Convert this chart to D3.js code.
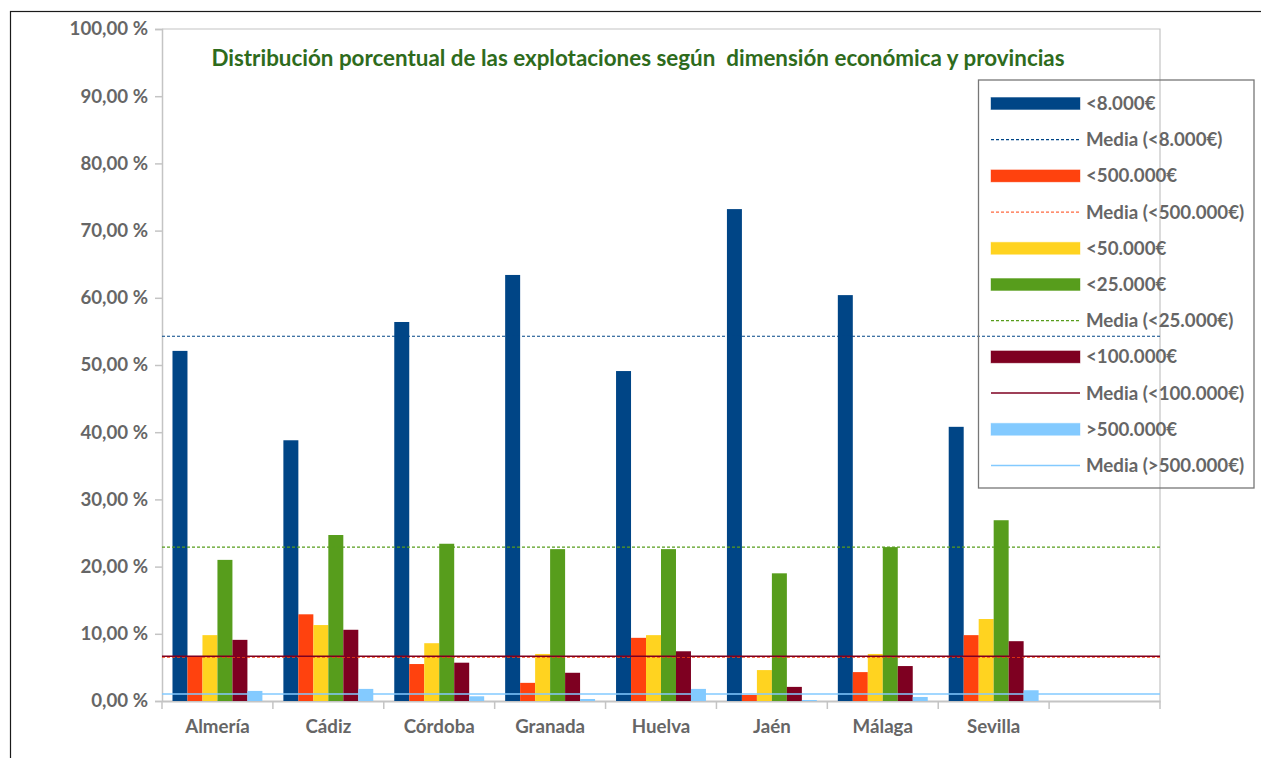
<!DOCTYPE html>
<html>
<head>
<meta charset="utf-8">
<script src="https://cdn.jsdelivr.net/npm/d3@7"></script>
<style>
  html, body { margin: 0; padding: 0; background: #fff; }
  svg { display: block; }
  text { font-family: Lato, "Noto Sans", sans-serif; font-weight: bold; }
</style>
</head>
<body>
<svg id="chart" width="1261" height="758"></svg>
<script>
const provinces = ["Almería", "Cádiz", "Córdoba", "Granada", "Huelva", "Jaén", "Málaga", "Sevilla", ""];
const seriesNames = ["<8.000€", "<500.000€", "<50.000€", "<25.000€", "<100.000€", ">500.000€"];
const seriesColors = ["#004586", "#ff420e", "#ffd320", "#579d1c", "#7e0021", "#83caff"];

const valsLt8k    = [52.1, 38.8, 56.4, 63.4, 49.1, 73.2, 60.4, 40.8];
const valsLt500k  = [6.6, 12.9, 5.5, 2.7, 9.4, 0.9, 4.3, 9.8];
const valsLt50k   = [9.8, 11.3, 8.6, 7.0, 9.8, 4.6, 7.0, 12.2];
const valsLt25k   = [21.0, 24.7, 23.4, 22.6, 22.6, 19.0, 22.9, 26.9];
const valsLt100k  = [9.1, 10.6, 5.7, 4.2, 7.4, 2.1, 5.2, 8.9];
const valsGt500k  = [1.5, 1.8, 0.7, 0.3, 1.8, 0.15, 0.6, 1.6];
const seriesValues = [valsLt8k, valsLt500k, valsLt50k, valsLt25k, valsLt100k, valsGt500k];

// mean lines: series index, label, dash
const meanSeries = [0, 1, 3, 4, 5];
const meanLabels = ["Media (<8.000€)", "Media (<500.000€)", "Media (<25.000€)", "Media (<100.000€)", "Media (>500.000€)"];
const meanDash = ["3,2", "3,2", "3,2", null, null];
const meanWidth = [1.2, 1, 1.2, 1.5, 1.5];

const yTicks = [0, 10, 20, 30, 40, 50, 60, 70, 80, 90, 100];
const title = "Distribución porcentual de las explotaciones según  dimensión económica y provincias";

const svg = d3.select("#chart");
const pLeft = 162, pRight = 1160, pTop = 29, pBottom = 701;
const labelSize = "18.7px";

const x = d3.scaleBand().domain(provinces).range([pLeft, pRight]).padding(0);
const xi = d3.scaleBand().domain(d3.range(seriesNames.length)).range([0, x.bandwidth()]).paddingInner(0).paddingOuter(0.7);
const y = d3.scaleLinear().domain([0, 100]).range([pBottom, pTop]);

// outer frame
svg.append("rect").attr("x", 10.5).attr("y", 11.5).attr("width", 1400).attr("height", 900)
  .attr("fill", "none").attr("stroke", "#1a1a1a").attr("stroke-width", 1.2);

// plot border (top, right)
svg.append("path").attr("d", `M${pLeft},${pTop}H${pRight}V${pBottom}`)
  .attr("fill", "none").attr("stroke", "#c4c4c4").attr("stroke-width", 1.2);

// y axis
const yAxis = svg.append("g").attr("transform", `translate(${pLeft},0)`)
  .call(d3.axisLeft(y).tickValues(yTicks).tickSize(7).tickPadding(7)
    .tickFormat(d => d3.format(".2f")(d).replace(".", ",") + " %"));
yAxis.select(".domain").attr("stroke", "#c4c4c4").attr("stroke-width", 1.5);
yAxis.selectAll(".tick line").attr("stroke", "#c4c4c4").attr("stroke-width", 1.5);
yAxis.selectAll(".tick text").attr("fill", "#666").style("font-size", labelSize).style("font-family", "Lato, sans-serif").style("font-weight", "bold");

// x axis
const xAxis = svg.append("g").attr("transform", `translate(0,${pBottom})`)
  .call(d3.axisBottom(x).tickSize(0).tickPadding(19));
xAxis.select(".domain").attr("stroke", "#c4c4c4").attr("stroke-width", 2);
xAxis.selectAll(".tick text").attr("fill", "#666").style("font-size", labelSize).style("font-family", "Lato, sans-serif").style("font-weight", "bold");
// boundary ticks between categories
const boundaries = provinces.map(p => x(p)).concat([pRight]);
svg.append("g").selectAll("line").data(boundaries).join("line")
  .attr("x1", d => d).attr("x2", d => d).attr("y1", pBottom).attr("y2", pBottom + 8)
  .attr("stroke", "#c4c4c4").attr("stroke-width", 1.5);

// bars
const groups = svg.append("g").selectAll("g").data(provinces.slice(0, 8)).join("g")
  .attr("transform", d => `translate(${x(d)},0)`);
groups.selectAll("rect").data((d, i) => seriesValues.map((vals, s) => ({ s, v: vals[i] }))).join("rect")
  .attr("x", d => xi(d.s)).attr("width", xi.bandwidth())
  .attr("y", d => y(d.v)).attr("height", d => y(0) - y(d.v))
  .attr("fill", d => seriesColors[d.s]);

// mean lines
meanSeries.forEach((s, k) => {
  const m = d3.mean(seriesValues[s]);
  svg.append("line").attr("x1", pLeft).attr("x2", pRight).attr("y1", y(m)).attr("y2", y(m))
    .attr("stroke", seriesColors[s]).attr("stroke-width", meanWidth[k])
    .attr("stroke-dasharray", meanDash[k]);
});

// title
svg.append("text").attr("x", 638).attr("y", 66).attr("text-anchor", "middle")
  .attr("fill", "#2e6b1c").style("font-size", "22.4px").style("white-space", "pre")
  .attr("xml:space", "preserve").text(title);

// legend
const legendItems = [
  { type: "bar", s: 0, label: seriesNames[0] },
  { type: "line", k: 0 },
  { type: "bar", s: 1, label: seriesNames[1] },
  { type: "line", k: 1 },
  { type: "bar", s: 2, label: seriesNames[2] },
  { type: "bar", s: 3, label: seriesNames[3] },
  { type: "line", k: 2 },
  { type: "bar", s: 4, label: seriesNames[4] },
  { type: "line", k: 3 },
  { type: "bar", s: 5, label: seriesNames[5] },
  { type: "line", k: 4 }
];
svg.append("rect").attr("x", 978.5).attr("y", 80).attr("width", 275.5).attr("height", 408)
  .attr("fill", "none").attr("stroke", "#777").attr("stroke-width", 1.3);
const lg = svg.append("g").selectAll("g").data(legendItems).join("g")
  .attr("transform", (d, i) => `translate(991,${103.5 + i * 36.2})`);
lg.each(function (d) {
  const g = d3.select(this);
  if (d.type === "bar") {
    g.append("rect").attr("x", 0).attr("y", -6).attr("width", 89).attr("height", 12)
      .attr("fill", seriesColors[d.s]).attr("stroke", seriesColors[d.s]).attr("stroke-opacity", 0.4);
  } else {
    const s = meanSeries[d.k];
    g.append("line").attr("x1", 0).attr("x2", 89).attr("y1", 0).attr("y2", 0)
      .attr("stroke", seriesColors[s]).attr("stroke-width", meanWidth[d.k])
      .attr("stroke-dasharray", meanDash[d.k]);
  }
  g.append("text").attr("x", 95).attr("y", 6.5).attr("fill", "#666").style("font-size", labelSize)
    .text(d.type === "bar" ? d.label : meanLabels[d.k]);
});
</script>
</body>
</html>
